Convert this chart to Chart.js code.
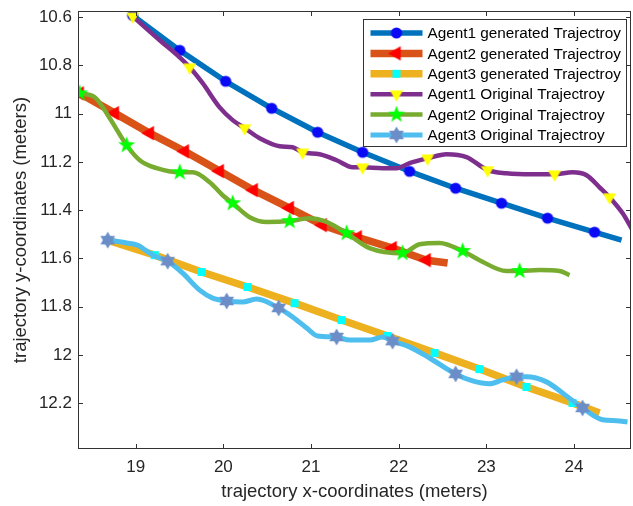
<!DOCTYPE html>
<html>
<head>
<meta charset="utf-8">
<title>Agent trajectories</title>
<script src="https://cdn.jsdelivr.net/npm/chart.js@4.4.0/dist/chart.umd.min.js"></script>
<style>
  html, body { margin: 0; padding: 0; background: #fff; }
  canvas { display: block; }
</style>
</head>
<body>
<canvas id="trajChart" width="633" height="506"></canvas>
<script>
// tick values / labels
const xTicks = [19, 20, 21, 22, 23, 24];
const yTicks = [10.6, 10.8, 11, 11.2, 11.4, 11.6, 11.8, 12, 12.2];
const yTickLabels = ['10.6', '10.8', '11', '11.2', '11.4', '11.6', '11.8', '12', '12.2'];

const seriesNames = [
    'Agent1 generated Trajectroy',
    'Agent2 generated Trajectroy',
    'Agent3 generated Trajectroy',
    'Agent1 Original Trajectroy',
    'Agent2 Original Trajectroy',
    'Agent3 Original Trajectroy'
];

// Agent1 generated
const agent1GenX = [18.966, 19.502, 20.026, 20.551, 21.075, 21.588, 22.124, 22.649, 23.173, 23.698, 24.234, 24.542];
const agent1GenY = [10.593, 10.738, 10.866, 10.978, 11.077, 11.160, 11.239, 11.309, 11.371, 11.433, 11.491, 11.524];
const agent1GenMarks = [0, 1, 2, 3, 4, 5, 6, 7, 8, 9, 10];

// Agent2 generated
const agent2GenX = [18.361, 18.761, 19.160, 19.559, 19.958, 20.345, 20.756, 21.132, 21.531, 21.930, 22.318, 22.558];
const agent2GenY = [10.916, 10.998, 11.081, 11.156, 11.238, 11.317, 11.391, 11.462, 11.512, 11.557, 11.607, 11.619];
const agent2GenMarks = [0, 1, 2, 3, 4, 5, 6, 7, 8, 9, 10];

// Agent3 generated
const agent3GenX = [18.681, 19.217, 19.753, 20.277, 20.813, 21.349, 21.873, 22.409, 22.922, 23.458, 23.983, 24.291];
const agent3GenY = [11.524, 11.586, 11.656, 11.718, 11.785, 11.855, 11.921, 11.991, 12.058, 12.132, 12.198, 12.240];
const agent3GenMarks = [0, 1, 2, 3, 4, 5, 6, 7, 8, 9, 10];

// Agent1 original
const agent1OrigX = [18.966, 19.274, 19.502, 19.616, 19.764, 19.958, 20.106, 20.243, 20.414, 20.642, 20.790,
    20.904, 21.098, 21.292, 21.474, 21.588, 21.816, 21.976, 22.124, 22.329, 22.546, 22.774,
    23.014, 23.230, 23.527, 23.778, 23.983, 24.143, 24.291, 24.405, 24.553, 24.667];
const agent1OrigY = [10.597, 10.696, 10.767, 10.808, 10.874, 10.974, 11.027, 11.060, 11.102, 11.135, 11.139,
    11.160, 11.168, 11.193, 11.222, 11.222, 11.226, 11.226, 11.205, 11.185, 11.168, 11.180,
    11.234, 11.247, 11.251, 11.251, 11.243, 11.255, 11.305, 11.346, 11.412, 11.482];
const agent1OrigMarks = [0, 3, 7, 11, 15, 19, 22, 25, 29];

// Agent2 original
const agent2OrigX = [18.361, 18.533, 18.704, 18.897, 19.046, 19.239, 19.502, 19.650, 19.844, 19.992, 20.106,
    20.300, 20.494, 20.756, 20.984, 21.155, 21.406, 21.668, 22.044, 22.238, 22.466, 22.729,
    22.922, 23.230, 23.379, 23.607, 23.835, 23.949];
const agent2OrigY = [10.916, 10.932, 11.019, 11.131, 11.193, 11.226, 11.243, 11.243, 11.284, 11.338, 11.371,
    11.429, 11.449, 11.445, 11.433, 11.445, 11.495, 11.557, 11.578, 11.541, 11.536, 11.569,
    11.607, 11.652, 11.652, 11.648, 11.652, 11.669];
const agent2OrigMarks = [0, 3, 6, 10, 13, 16, 18, 21, 24];

// Agent3 original
const agent3OrigX = [18.681, 18.897, 19.023, 19.194, 19.365, 19.536, 19.730, 19.878, 20.038, 20.220, 20.380,
    20.631, 20.790, 20.950, 21.075, 21.292, 21.440, 21.668, 21.816, 21.930, 22.124, 22.352,
    22.649, 22.843, 23.037, 23.185, 23.344, 23.458, 23.686, 23.869, 24.097, 24.325, 24.485, 24.610];
const agent3OrigY = [11.524, 11.536, 11.545, 11.586, 11.611, 11.661, 11.731, 11.764, 11.776, 11.780, 11.768,
    11.805, 11.842, 11.888, 11.921, 11.925, 11.938, 11.938, 11.925, 11.942, 11.966, 12.012,
    12.078, 12.107, 12.119, 12.103, 12.090, 12.090, 12.111, 12.157, 12.219, 12.268, 12.272, 12.277];
const agent3OrigMarks = [0, 4, 8, 11, 15, 19, 22, 26, 30];

const FONT = '"Liberation Sans", Arial, Helvetica, sans-serif';

// ---- marker images (matlab style filled markers) ----
function makeMarker(size, draw) {
    const c = document.createElement('canvas');
    c.width = size;
    c.height = size;
    const g = c.getContext('2d');
    g.translate(size / 2, size / 2);
    draw(g);
    return c;
}

function starPath(g, points, rOut, rIn, startDeg) {
    const step = Math.PI / points;
    let a = startDeg * Math.PI / 180;
    g.beginPath();
    for (let i = 0; i < points * 2; i++) {
        const r = i % 2 === 0 ? rOut : rIn;
        const px = Math.cos(a) * r;
        const py = Math.sin(a) * r;
        if (i === 0) g.moveTo(px, py); else g.lineTo(px, py);
        a += step;
    }
    g.closePath();
}

function polyPath(g, n, r, startDeg) {
    g.beginPath();
    for (let i = 0; i < n; i++) {
        const a = (startDeg + i * 360 / n) * Math.PI / 180;
        const px = Math.cos(a) * r;
        const py = Math.sin(a) * r;
        if (i === 0) g.moveTo(px, py); else g.lineTo(px, py);
    }
    g.closePath();
}

const circleMarker = makeMarker(14, g => {
    g.beginPath();
    g.arc(0, 0, 5.6, 0, Math.PI * 2);
    g.fillStyle = '#0a0af5';
    g.fill();
});
const leftTriMarker = makeMarker(20, g => {
    polyPath(g, 3, 8.5, 180);
    g.fillStyle = '#ff0000';
    g.fill();
});
const squareMarker = makeMarker(12, g => {
    g.fillStyle = '#00ffff';
    g.fillRect(-4, -4, 8, 8);
});
const downTriMarker = makeMarker(18, g => {
    polyPath(g, 3, 7.5, 90);
    g.fillStyle = '#ffff00';
    g.fill();
});
const pentaMarker = makeMarker(20, g => {
    starPath(g, 5, 9, 3.6, -90);
    g.fillStyle = '#00ff00';
    g.fill();
});
const hexaMarker = makeMarker(20, g => {
    starPath(g, 6, 8.5, 4.9, -90);
    g.fillStyle = '#6b8ec8';
    g.fill();
});

function toPoints(xs, ys) {
    return xs.map((v, i) => ({ x: v, y: ys[i] }));
}

function makeDataset(idx, xs, ys, marks, color, width, marker, smooth) {
    return {
        label: seriesNames[idx],
        data: toPoints(xs, ys),
        borderColor: color,
        backgroundColor: color,
        borderWidth: width,
        borderCapStyle: 'butt',
        borderJoinStyle: 'round',
        pointStyle: marker,
        pointRadius: ctx => marks.includes(ctx.dataIndex) ? 6 : 0,
        pointHoverRadius: ctx => marks.includes(ctx.dataIndex) ? 6 : 0,
        tension: smooth ? 0.4 : 0,
        cubicInterpolationMode: smooth ? 'monotone' : 'default',
        fill: false,
        order: 6 - idx,
        _marker: marker
    };
}

const datasets = [
    makeDataset(0, agent1GenX, agent1GenY, agent1GenMarks, '#0072bd', 5.5, circleMarker, false),
    makeDataset(1, agent2GenX, agent2GenY, agent2GenMarks, '#d95319', 7.5, leftTriMarker, false),
    makeDataset(2, agent3GenX, agent3GenY, agent3GenMarks, '#edb120', 7.5, squareMarker, false),
    makeDataset(3, agent1OrigX, agent1OrigY, agent1OrigMarks, '#7e2f8e', 4.5, downTriMarker, true),
    makeDataset(4, agent2OrigX, agent2OrigY, agent2OrigMarks, '#77ac30', 4.5, pentaMarker, true),
    makeDataset(5, agent3OrigX, agent3OrigY, agent3OrigMarks, '#4dbeee', 5, hexaMarker, true)
];

// frame with inward ticks + boxed legend, drawn on top
const matlabAxes = {
    id: 'matlabAxes',
    afterDraw(chart) {
        const { ctx, chartArea: a, scales } = chart;
        const xs = scales.x, ys = scales.y;
        ctx.save();
        ctx.strokeStyle = '#333333';
        ctx.lineWidth = 1;
        ctx.beginPath();
        xTicks.forEach(v => {
            const px = Math.round(xs.getPixelForValue(v)) + 0.5;
            ctx.moveTo(px, a.bottom); ctx.lineTo(px, a.bottom - 5);
            ctx.moveTo(px, a.top); ctx.lineTo(px, a.top + 5);
        });
        yTicks.forEach(v => {
            const py = Math.round(ys.getPixelForValue(v)) + 0.5;
            ctx.moveTo(a.left, py); ctx.lineTo(a.left + 5, py);
            ctx.moveTo(a.right, py); ctx.lineTo(a.right - 5, py);
        });
        ctx.stroke();
        ctx.strokeRect(Math.round(a.left) + 0.5, Math.round(a.top) + 0.5,
            Math.round(a.right - a.left) - 1, Math.round(a.bottom - a.top) - 1);

        // legend box
        const boxW = 263, boxH = 127;
        const bx = Math.round(a.right - 5 - boxW) + 0.5;
        const by = Math.round(a.top + 8) + 0.5;
        ctx.fillStyle = '#ffffff';
        ctx.fillRect(bx, by, boxW, boxH);
        ctx.strokeStyle = '#333333';
        ctx.strokeRect(bx, by, boxW, boxH);
        ctx.font = '15.3px ' + FONT;
        ctx.textBaseline = 'middle';
        ctx.textAlign = 'left';
        chart.data.datasets.forEach((ds, i) => {
            const rowY = by + 13.5 + i * 20.4;
            ctx.beginPath();
            ctx.strokeStyle = ds.borderColor;
            ctx.lineWidth = ds.borderWidth;
            ctx.lineCap = 'butt';
            ctx.moveTo(bx + 7, rowY);
            ctx.lineTo(bx + 59, rowY);
            ctx.stroke();
            const m = ds._marker;
            ctx.drawImage(m, bx + 33 - m.width / 2, rowY - m.height / 2);
            ctx.fillStyle = '#000000';
            ctx.fillText(ds.label, bx + 64, rowY + 1);
        });
        ctx.restore();
    }
};

new Chart(document.getElementById('trajChart').getContext('2d'), {
    type: 'line',
    data: { datasets: datasets },
    options: {
        responsive: false,
        animation: false,
        events: [],
        layout: { autoPadding: false, padding: { top: 11, right: 2, left: 0, bottom: 0 } },
        plugins: {
            legend: { display: false },
            tooltip: { enabled: false }
        },
        scales: {
            x: {
                type: 'linear',
                min: 18.342,
                max: 24.65,
                afterBuildTicks: axis => { axis.ticks = xTicks.map(v => ({ value: v })); },
                afterFit: axis => {
                    axis.height = 57;
                    axis.paddingLeft = 0;
                    axis.paddingRight = 0;
                },
                grid: { display: false, drawTicks: false },
                border: { display: false },
                ticks: {
                    padding: 8,
                    autoSkip: false,
                    maxRotation: 0,
                    color: '#262626',
                    font: { family: FONT, size: 17 },
                    callback: v => String(v)
                },
                title: {
                    display: true,
                    text: 'trajectory x-coordinates (meters)',
                    color: '#262626',
                    font: { family: FONT, size: 18.5 },
                    padding: { top: 0, bottom: 3 }
                }
            },
            y: {
                type: 'linear',
                reverse: true,
                min: 10.575,
                max: 12.389,
                afterBuildTicks: axis => { axis.ticks = yTicks.map(v => ({ value: v })); },
                afterFit: axis => {
                    axis.width = 78;
                    axis.paddingTop = 0;
                    axis.paddingBottom = 0;
                },
                grid: { display: false, drawTicks: false },
                border: { display: false },
                ticks: {
                    padding: 6,
                    autoSkip: false,
                    color: '#262626',
                    font: { family: FONT, size: 17 },
                    callback: (v, i) => yTickLabels[i]
                },
                title: {
                    display: true,
                    text: 'trajectory y-coordinates (meters)',
                    color: '#262626',
                    font: { family: FONT, size: 18.5 },
                    padding: { top: 10, bottom: 0 }
                }
            }
        }
    },
    plugins: [matlabAxes]
});
</script>
</body>
</html>
